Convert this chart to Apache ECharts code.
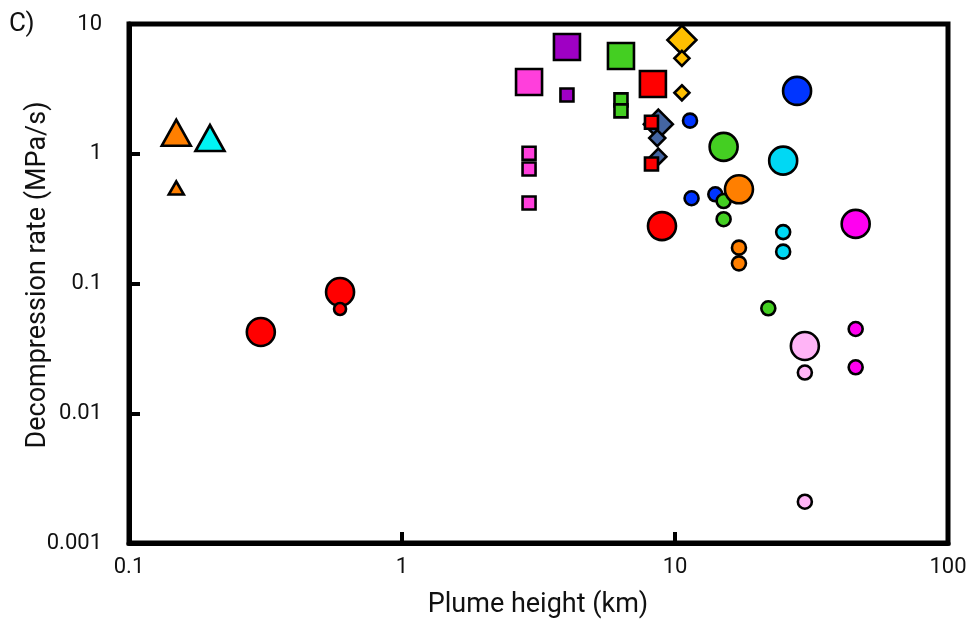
<!DOCTYPE html>
<html>
<head>
<meta charset="utf-8">
<script src="https://cdn.jsdelivr.net/npm/echarts@6/dist/echarts.min.js"></script>
<style>
  html, body { margin: 0; padding: 0; background: #fff; }
  #chart { width: 971px; height: 622px; }
</style>
</head>
<body>
<div id="chart"></div>
<script>
// ---- Data: [plume height (km), decompression rate (MPa/s)] ----
const xTicks = [0.1, 1, 10, 100];
const yTicks = [0.001, 0.01, 0.1, 1, 10];
const xTitle = 'Plume height (km)';
const yTitle = 'Decompression rate (MPa/s)';
const panelLabel = 'C)';

const orangeTriBig   = [[0.149, 1.45]];
const orangeTriSmall = [[0.149, 0.545]];
const cyanTriBig     = [[0.198, 1.32]];

const redCircBig     = [[0.304, 0.0423], [0.593, 0.086], [8.96, 0.277]];
const redCircSmall   = [[0.593, 0.0636]];

const pinkSqBig      = [[2.92, 3.57]];
const pinkSqSmall    = [[2.92, 1.01], [2.92, 0.763], [2.92, 0.417]];
const purpleSqBig    = [[4.02, 6.65]];
const purpleSqSmall  = [[4.02, 2.84]];
const greenSqBig     = [[6.34, 5.67]];
const greenSqSmall   = [[6.34, 2.6], [6.34, 2.14]];
const redSqBig       = [[8.3, 3.45]];
const redSqSmall     = [[8.2, 1.75], [8.2, 0.834]];

const yellowDiaBig   = [[10.6, 7.53]];
const yellowDiaSmall = [[10.6, 5.44], [10.6, 2.95]];
const steelDiaBig    = [[8.69, 1.69]];
const steelDiaSmall  = [[8.61, 1.32], [8.69, 0.95]];

const blueCircBig    = [[28.0, 3.05]];
const blueCircSmall  = [[11.35, 1.80], [11.5, 0.454], [14.05, 0.487]];
const greenCircBig   = [[15.07, 1.13]];
const greenCircSmall = [[15.07, 0.432], [15.07, 0.313], [21.97, 0.0644]];
const orangeCircBig  = [[17.15, 0.532]];
const orangeCircSmall= [[17.15, 0.189], [17.15, 0.143]];
const cyanCircBig    = [[24.9, 0.885]];
const cyanCircSmall  = [[24.9, 0.249], [24.9, 0.176]];
const magentaCircBig = [[45.9, 0.288]];
const magentaCircSmall = [[45.9, 0.0446], [45.9, 0.0226]];
const pinkCircBig    = [[29.9, 0.033]];
const pinkCircSmall  = [[29.9, 0.0206], [29.9, 0.00208]];

// ---- Styling ----
const FONT = 'Roboto';
const C = {
  orange: '#ff7f00', cyanTri: '#00f4f4', cyan: '#00d8f4', red: '#ff0000',
  pinkSq: '#ff3fdc', purple: '#9f00c4', green: '#44cf22', yellow: '#ffbf00',
  steel: '#4465a2', blue: '#0035ff', magenta: '#ff00f0', lightPink: '#ffb4f6'
};

function s(data, symbol, size, color, z) {
  return {
    type: 'scatter', data: data, symbol: symbol, symbolSize: size, z: z || 2,
    itemStyle: { color: color, borderColor: '#000', borderWidth: 2.6, opacity: 1 },
    emphasis: { disabled: true }, animation: false
  };
}

const BIG_C = 28, SMALL_C = 14;
const series = [
  s(orangeTriBig, 'triangle', [29, 26], C.orange),
  s(cyanTriBig, 'triangle', [29, 26], C.cyanTri),
  s(orangeTriSmall, 'triangle', [15, 13], C.orange),

  s(redCircBig, 'circle', BIG_C, C.red),
  s(redCircSmall, 'circle', 12, C.red, 3),

  s(pinkSqBig, 'rect', 26, C.pinkSq),
  s(purpleSqBig, 'rect', 26, C.purple),
  s(greenSqBig, 'rect', 26, C.green),
  s(redSqBig, 'rect', 26, C.red),
  s(pinkSqSmall, 'rect', 13, C.pinkSq),
  s(purpleSqSmall, 'rect', 13, C.purple),
  s(greenSqSmall, 'rect', 13, C.green),

  s(yellowDiaBig, 'diamond', 29, C.yellow),
  s(yellowDiaSmall, 'diamond', 15, C.yellow),
  s(steelDiaBig, 'diamond', 29, C.steel),
  s(steelDiaSmall, 'diamond', 16, C.steel),
  s(redSqSmall, 'rect', 13, C.red, 3),

  s(blueCircBig, 'circle', BIG_C, C.blue),
  s(greenCircBig, 'circle', BIG_C, C.green),
  s(cyanCircBig, 'circle', BIG_C, C.cyan),
  s(magentaCircBig, 'circle', BIG_C, C.magenta),
  s(pinkCircBig, 'circle', BIG_C, C.lightPink),
  s(blueCircSmall, 'circle', SMALL_C, C.blue, 3),
  s(greenCircSmall, 'circle', SMALL_C, C.green, 3),
  s(orangeCircBig, 'circle', BIG_C, C.orange, 4),
  s(orangeCircSmall, 'circle', SMALL_C, C.orange, 3),
  s(cyanCircSmall, 'circle', SMALL_C, C.cyan, 3),
  s(magentaCircSmall, 'circle', SMALL_C, C.magenta, 3),
  s(pinkCircSmall, 'circle', SMALL_C, C.lightPink, 3)
];

function fmt(v) { return String(+(+v).toPrecision(3)); }

const chart = echarts.init(document.getElementById('chart'), null, { renderer: 'canvas' });
chart.setOption({
  animation: false,
  backgroundColor: '#fff',
  textStyle: { fontFamily: FONT },
  grid: { left: 129, right: 23, top: 24, bottom: 79, show: true,
          borderColor: '#000', borderWidth: 5, backgroundColor: 'transparent' },
  graphic: [
    { type: 'text', x: 9, y: 24,
      style: { text: panelLabel, font: '26px ' + FONT, fill: '#111',
               textAlign: 'left', textVerticalAlign: 'middle' } },
    { type: 'text', x: 538, y: 605,
      style: { text: xTitle, font: '27px ' + FONT, fill: '#111',
               textAlign: 'center', textVerticalAlign: 'middle' } },
    { type: 'text', x: 38, y: 275, rotation: Math.PI / 2,
      style: { text: yTitle, font: '27px ' + FONT, fill: '#111',
               textAlign: 'center', textVerticalAlign: 'middle' } }
  ],
  xAxis: {
    type: 'log', logBase: 10, min: xTicks[0], max: xTicks[xTicks.length - 1],
    axisLine: { lineStyle: { color: '#000', width: 5 } },
    axisTick: { inside: true, length: 11, lineStyle: { color: '#000', width: 4 } },
    minorTick: { show: false },
    splitLine: { show: false },
    axisLabel: { fontSize: 22, color: '#111', margin: 13, formatter: fmt, fontFamily: FONT }
  },
  yAxis: {
    type: 'log', logBase: 10, min: yTicks[0], max: yTicks[yTicks.length - 1],
    axisLine: { lineStyle: { color: '#000', width: 5 } },
    axisTick: { inside: true, length: 11, lineStyle: { color: '#000', width: 4 } },
    splitLine: { show: false },
    axisLabel: { fontSize: 22, color: '#111', margin: 27, formatter: fmt, fontFamily: FONT }
  },
  series: series
});
</script>
</body>
</html>
